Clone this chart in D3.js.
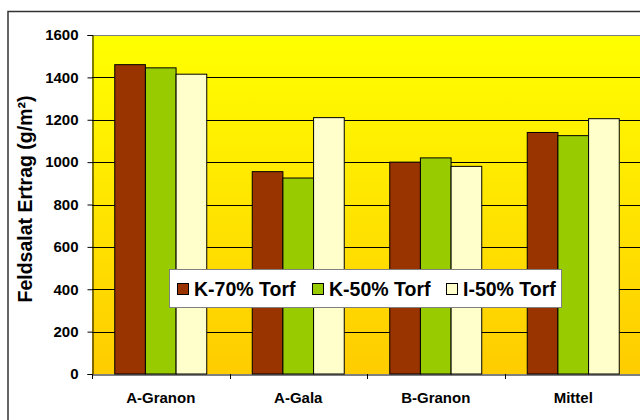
<!DOCTYPE html>
<html>
<head>
<meta charset="utf-8">
<script src="https://cdn.jsdelivr.net/npm/d3@7"></script>
<style>
  body { margin: 0; background: #fff; }
  svg { display: block; font-family: Arial, "Liberation Sans", sans-serif; }
</style>
</head>
<body>
<div id="chart"></div>
<script>
const categories = ["A-Granon", "A-Gala", "B-Granon", "Mittel"];
const seriesNames = ["K-70% Torf", "K-50% Torf", "I-50% Torf"];
const k70 = [1460, 955, 1000, 1140];
const k50 = [1445, 925, 1020, 1125];
const i50 = [1415, 1210, 980, 1205];
const yTicks = [0, 200, 400, 600, 800, 1000, 1200, 1400, 1600];

const seriesValues = [k70, k50, i50];
const seriesColors = ["#993300", "#99cc00", "#ffffcc"];

const w = 640;
const h = 420;
const plot = { left: 92, right: 642, top: 35, bottom: 374 };

const svg = d3
  .select("#chart")
  .append("svg")
  .attr("width", w)
  .attr("height", h);

const defs = svg.append("defs");
const grad = defs
  .append("linearGradient")
  .attr("id", "bg")
  .attr("x1", 0)
  .attr("y1", 0)
  .attr("x2", 0)
  .attr("y2", 1);
grad.append("stop").attr("offset", "0%").attr("stop-color", "#ffff00");
grad.append("stop").attr("offset", "100%").attr("stop-color", "#ffcc00");

// outer chart frame, runs off the right and bottom edge
svg
  .append("rect")
  .attr("x", 8)
  .attr("y", 11.5)
  .attr("width", 700)
  .attr("height", 500)
  .attr("fill", "#fff")
  .attr("stroke", "#333")
  .attr("stroke-width", 1.5);

const x0 = d3
  .scaleBand()
  .domain(categories)
  .range([plot.left, plot.right])
  .padding(0);

const x1 = d3
  .scaleBand()
  .domain(seriesNames)
  .range([0, x0.bandwidth()])
  .paddingInner(0)
  .paddingOuter(0.742);

const y = d3.scaleLinear().domain([0, 1600]).range([plot.bottom, plot.top]);

svg
  .append("rect")
  .attr("x", plot.left)
  .attr("y", plot.top)
  .attr("width", plot.right - plot.left)
  .attr("height", plot.bottom - plot.top)
  .attr("fill", "url(#bg)");

svg
  .append("g")
  .selectAll("line")
  .data(yTicks.filter((t) => t > 0 && t < 1600))
  .enter()
  .append("line")
  .attr("x1", plot.left)
  .attr("x2", plot.right)
  .attr("y1", (d) => Math.round(y(d)) + 0.5)
  .attr("y2", (d) => Math.round(y(d)) + 0.5)
  .attr("stroke", "#000")
  .attr("stroke-width", 1);

svg
  .append("line")
  .attr("x1", plot.left)
  .attr("x2", plot.right)
  .attr("y1", plot.top + 0.5)
  .attr("y2", plot.top + 0.5)
  .attr("stroke", "#808080")
  .attr("stroke-width", 1);

const rows = [];
categories.forEach((c, i) => {
  seriesNames.forEach((s, j) => {
    rows.push({ category: c, series: s, value: seriesValues[j][i], color: seriesColors[j] });
  });
});

svg
  .append("g")
  .selectAll("rect")
  .data(rows)
  .enter()
  .append("rect")
  .attr("x", (d) => x0(d.category) + x1(d.series))
  .attr("y", (d) => y(d.value))
  .attr("width", x1.bandwidth())
  .attr("height", (d) => plot.bottom - y(d.value))
  .attr("fill", (d) => d.color)
  .attr("stroke", "#000")
  .attr("stroke-width", 1);

const yAxis = svg
  .append("g")
  .attr("transform", `translate(${plot.left + 0.5},0)`)
  .call(d3.axisLeft(y).tickValues(yTicks).tickSize(5).tickPadding(9).tickFormat(d3.format("d")));

yAxis.select(".domain").attr("stroke", "#000");
yAxis.selectAll(".tick line").attr("stroke", "#000");
yAxis
  .selectAll(".tick text")
  .style("font-size", "15px")
  .style("font-weight", "bold")
  .attr("fill", "#000");

const xAxis = svg
  .append("g")
  .attr("transform", `translate(0,${plot.bottom + 0.5})`)
  .call(d3.axisBottom(x0).tickSize(0).tickPadding(18));

xAxis.select(".domain").attr("stroke", "#000");
xAxis
  .selectAll(".tick text")
  .style("font-size", "15px")
  .style("font-weight", "bold")
  .attr("fill", "#000");

svg
  .append("g")
  .selectAll("line")
  .data(categories)
  .enter()
  .append("line")
  .attr("x1", (d) => Math.round(x0(d)) + 0.5)
  .attr("x2", (d) => Math.round(x0(d)) + 0.5)
  .attr("y1", plot.bottom)
  .attr("y2", plot.bottom + 5)
  .attr("stroke", "#000");

svg
  .append("text")
  .attr("transform", `translate(32,199) rotate(-90)`)
  .attr("text-anchor", "middle")
  .style("font-size", "19.5px")
  .style("font-weight", "bold")
  .attr("fill", "#000")
  .text("Feldsalat Ertrag (g/m²)");

const legend = svg.append("g");

legend
  .append("rect")
  .attr("x", 169.5)
  .attr("y", 269.5)
  .attr("width", 392)
  .attr("height", 38)
  .attr("fill", "#fff")
  .attr("stroke", "#808080")
  .attr("stroke-width", 1);

const legendX = [177, 312, 446];

const item = legend
  .selectAll(".legend-item")
  .data(seriesNames)
  .enter()
  .append("g")
  .attr("class", "legend-item")
  .attr("transform", (d, i) => `translate(${legendX[i]},283)`);

item
  .append("rect")
  .attr("x", 0.5)
  .attr("y", 0.5)
  .attr("width", 11)
  .attr("height", 11)
  .attr("fill", (d, i) => seriesColors[i])
  .attr("stroke", "#000");

item
  .append("text")
  .attr("x", 17)
  .attr("y", 13)
  .style("font-size", "19.5px")
  .style("font-weight", "bold")
  .attr("fill", "#000")
  .text((d) => d);
</script>
</body>
</html>
